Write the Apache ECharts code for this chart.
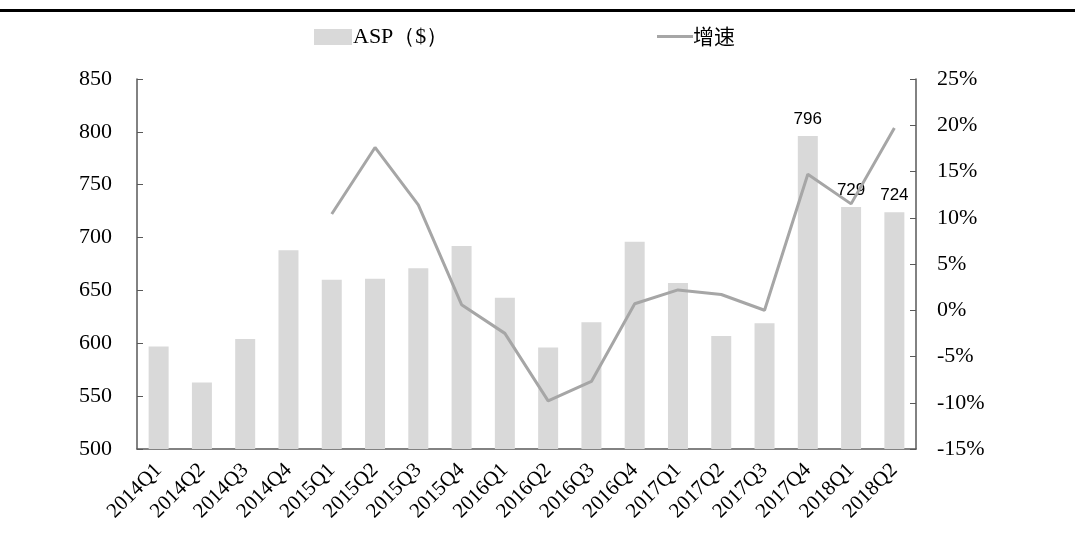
<!DOCTYPE html>
<html>
<head>
<meta charset="utf-8">
<script src="https://cdn.jsdelivr.net/npm/echarts@6/dist/echarts.min.js"></script>
<style>
  html, body { margin: 0; padding: 0; background: #fff; }
  #main { width: 1075px; height: 550px; }
</style>
</head>
<body>
<div id="main"></div>
<script>
const quarters = ['2014Q1','2014Q2','2014Q3','2014Q4','2015Q1','2015Q2','2015Q3','2015Q4',
  '2016Q1','2016Q2','2016Q3','2016Q4','2017Q1','2017Q2','2017Q3','2017Q4','2018Q1','2018Q2'];
const asp = [597, 563, 604, 688, 660, 661, 671, 692, 643, 596, 620, 696, 657, 607, 619, 796, 729, 724];
const growth = [null, null, null, null, 10.4, 17.6, 11.4, 0.6, -2.5, -9.8, -7.7, 0.7, 2.2, 1.7, 0.0, 14.7, 11.5, 19.7];
const labelled = ['2017Q4', '2018Q1', '2018Q2'];

const serif = '"Liberation Serif", "Times New Roman", serif';
const chart = echarts.init(document.getElementById('main'));

chart.setOption({
  animation: false,
  graphic: [{
    type: 'rect',
    shape: {x: 0, y: 9, width: 1075, height: 3},
    style: {fill: '#000'}
  }],
  legend: [{
    data: [{name: 'ASP（$）', icon: 'rect'}],
    left: 309, top: 21,
    itemWidth: 38, itemHeight: 16, itemGap: 2,
    textStyle: {fontFamily: serif, fontSize: 22, color: '#000', padding: [0, 0, 0, -4]}
  }, {
    data: [{name: '增速', icon: 'rect'}],
    left: 652, top: 21,
    itemWidth: 36, itemHeight: 3,
    textStyle: {fontFamily: '"Noto Sans CJK SC", serif', fontSize: 21, color: '#000', padding: [0, 0, 0, -5]}
  }],
  grid: {left: 137, right: 159, top: 79, bottom: 101},
  xAxis: {
    type: 'category',
    data: quarters,
    axisLine: {onZero: false, lineStyle: {color: '#595959', width: 1.5}},
    axisTick: {inside: true, length: 6, lineStyle: {color: '#595959'}},
    axisLabel: {rotate: 45, fontFamily: serif, fontSize: 21, color: '#000', margin: 18}
  },
  yAxis: [{
    type: 'value',
    min: 500, max: 850, interval: 50,
    splitLine: {show: false},
    axisLine: {show: true, lineStyle: {color: '#595959', width: 1.5}},
    axisTick: {show: true, inside: true, length: 6, lineStyle: {color: '#595959'}},
    axisLabel: {fontFamily: serif, fontSize: 22, color: '#000', margin: 25}
  }, {
    type: 'value',
    min: -15, max: 25, interval: 5,
    splitLine: {show: false},
    axisLine: {show: true, lineStyle: {color: '#595959', width: 1.5}},
    axisTick: {show: true, inside: true, length: 6, lineStyle: {color: '#595959'}},
    axisLabel: {fontFamily: serif, fontSize: 22, color: '#000', margin: 21, formatter: '{value}%'}
  }],
  series: [{
    name: 'ASP（$）',
    type: 'bar',
    data: asp.map((v, i) => ({
      value: v,
      label: {show: labelled.includes(quarters[i])}
    })),
    barWidth: 20,
    itemStyle: {color: '#d9d9d9'},
    label: {
      position: 'top', distance: 8,
      fontFamily: '"Liberation Sans", Arial, sans-serif', fontSize: 17, color: '#000'
    }
  }, {
    name: '增速',
    type: 'line',
    yAxisIndex: 1,
    data: growth,
    symbol: 'none',
    lineStyle: {color: '#a6a6a6', width: 3},
    itemStyle: {color: '#a6a6a6'},
    z: 3
  }]
});
</script>
</body>
</html>
